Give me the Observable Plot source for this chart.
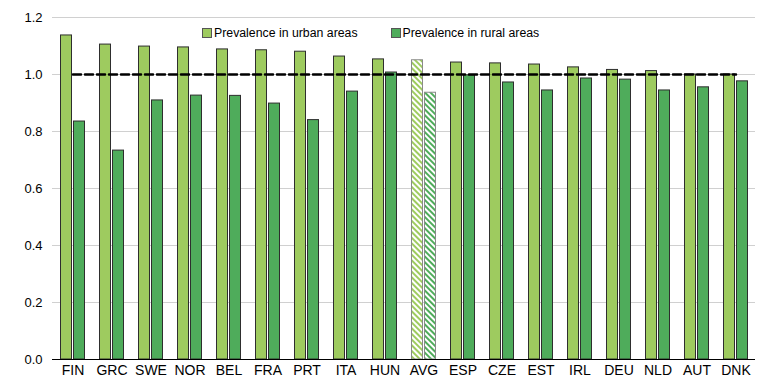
<!DOCTYPE html>
<html>
<head>
<meta charset="utf-8">
<script src="https://cdn.jsdelivr.net/npm/d3@7"></script>
<script src="https://cdn.jsdelivr.net/npm/@observablehq/plot@0.6"></script>
<style>
  body { margin: 0; background: #fff; font-family: "Liberation Sans", Arial, sans-serif; }
  #wrap { position: relative; width: 768px; height: 384px; }
  #legend { position: absolute; top: 26px; left: 202px; font-size: 12.3px; color: #000; display: flex; gap: 33px; white-space: nowrap; }
  #legend span.item { display: inline-flex; align-items: center; }
  #legend i { display: inline-block; width: 8px; height: 8px; border: 1px solid #555; margin-right: 2px; }
</style>
</head>
<body>
<div id="wrap"><div id="legend"></div></div>
<script>
const countries = ["FIN","GRC","SWE","NOR","BEL","FRA","PRT","ITA","HUN","AVG","ESP","CZE","EST","IRL","DEU","NLD","AUT","DNK"];
const urban = [1.137,1.105,1.098,1.095,1.088,1.085,1.080,1.063,1.053,1.050,1.042,1.039,1.035,1.025,1.016,1.012,1.000,1.000];
const rural = [0.835,0.733,0.909,0.926,0.925,0.898,0.840,0.940,1.007,0.936,0.997,0.972,0.944,0.986,0.982,0.944,0.955,0.976];
const seriesNames = ["Prevalence in urban areas","Prevalence in rural areas"];
const yTicks = [0, 0.2, 0.4, 0.6, 0.8, 1.0, 1.2];

const urbanColor = "#9ecb5f";
const ruralColor = "#4fac5b";

const data = countries.map((c, i) => ({country: c, urban: urban[i], rural: rural[i]}));
const isAvg = d => d.country === "AVG";

const plot = Plot.plot({
  width: 768,
  height: 384,
  marginTop: 17,
  marginBottom: 25,
  marginLeft: 52,
  marginRight: 13,
  style: {fontFamily: "'Liberation Sans', Arial, sans-serif", fontSize: "13px", color: "#000", background: "#fff"},
  x: {domain: countries, padding: 0, label: null, tickSize: 0, tickPadding: 5},
  y: {domain: [0, 1.2], ticks: yTicks, tickFormat: d3.format(".1f"), label: null, tickSize: 0, tickPadding: 10},
  marks: [
    Plot.gridY(yTicks, {stroke: "#d0d0d0", strokeOpacity: 1, strokeWidth: 1}),
    Plot.barY(data, {x: "country", y: "urban", insetLeft: 7.5, insetRight: 20.5,
      fill: d => isAvg(d) ? "url(#hatchU)" : urbanColor,
      stroke: d => isAvg(d) ? "#8a8a8a" : "#2e2e2e", strokeWidth: 1}),
    Plot.barY(data, {x: "country", y: "rural", insetLeft: 20.5, insetRight: 7.5,
      fill: d => isAvg(d) ? "url(#hatchR)" : ruralColor,
      stroke: d => isAvg(d) ? "#8a8a8a" : "#2e2e2e", strokeWidth: 1}),
    Plot.ruleY([0], {stroke: "#000", strokeWidth: 1}),
    Plot.lineY(data, {x: "country", y: () => 1, stroke: "#000", strokeWidth: 2.5, strokeDasharray: "8,4"}),
    Plot.axisX({tickSize: 0, tickPadding: 6, fontSize: 14, label: null}),
    Plot.axisY({ticks: yTicks, tickFormat: d3.format(".1f"), tickSize: 0, tickPadding: 10, fontSize: 13, label: null})
  ]
});

// hatch patterns for the average bars
const ns = "http://www.w3.org/2000/svg";
const defs = document.createElementNS(ns, "defs");
function pattern(id, color) {
  const p = document.createElementNS(ns, "pattern");
  p.setAttribute("id", id);
  p.setAttribute("patternUnits", "userSpaceOnUse");
  p.setAttribute("width", "4");
  p.setAttribute("height", "4");
  p.setAttribute("patternTransform", "rotate(45)");
  const bg = document.createElementNS(ns, "rect");
  bg.setAttribute("width", "4"); bg.setAttribute("height", "4"); bg.setAttribute("fill", "#fff");
  const r = document.createElementNS(ns, "rect");
  r.setAttribute("width", "4"); r.setAttribute("height", "2"); r.setAttribute("fill", color);
  p.appendChild(bg); p.appendChild(r);
  defs.appendChild(p);
}
pattern("hatchU", urbanColor);
pattern("hatchR", ruralColor);
plot.insertBefore(defs, plot.firstChild);

document.getElementById("wrap").appendChild(plot);

const legend = document.getElementById("legend");
[[seriesNames[0], urbanColor], [seriesNames[1], ruralColor]].forEach(([name, col]) => {
  const s = document.createElement("span");
  s.className = "item";
  const sw = document.createElement("i");
  sw.style.background = col;
  s.appendChild(sw);
  s.appendChild(document.createTextNode(name));
  legend.appendChild(s);
});
</script>
</body>
</html>
